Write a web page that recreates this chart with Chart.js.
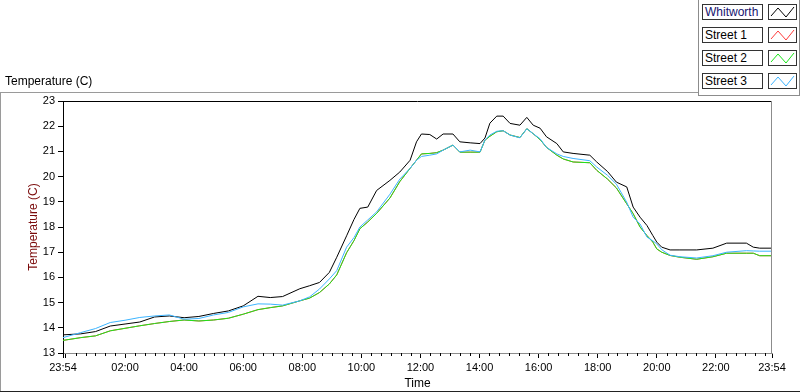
<!DOCTYPE html>
<html>
<head>
<meta charset="utf-8">
<script src="https://cdn.jsdelivr.net/npm/chart.js@4"></script>
<style>
    body { margin: 0; background: #fff; }
    #wrap { position: relative; width: 800px; height: 392px; overflow: hidden; font-family: 'Liberation Sans', Arial, sans-serif; }
    #chart { position: absolute; left: 0; top: 0; }
    .line { position: absolute; }
    #title { position: absolute; left: 5px; top: 74px; font-size: 12px; line-height: 15px; color: #000; }
    #legend { position: absolute; left: 698px; top: 0; width: 102px; height: 96px; box-sizing: border-box;
              border-left: 1px solid #8c8c8c; border-right: 1px solid #8c8c8c; border-bottom: 1px solid #8c8c8c; background: #fff; }
    .name { position: absolute; left: 3px; width: 61px; height: 16px; box-sizing: border-box; border: 1px solid #333;
            font-size: 12px; line-height: 14px; padding-left: 2px; color: #000; background: #fff; }
    .sample { position: absolute; left: 69px; width: 29px; height: 16px; box-sizing: border-box; border: 1px solid #333; background: #fff; }
    .sample svg { position: absolute; left: 0; top: 0; }
</style>
</head>
<body>
<div id="wrap">
    <canvas id="chart" width="800" height="392"></canvas>
    <div class="line" style="left:0;top:92px;width:698px;height:1px;background:#9a9a9a"></div>
    <div class="line" style="left:0;top:92px;width:1px;height:300px;background:#9a9a9a"></div>
    <div class="line" style="left:0;top:391px;width:800px;height:1px;background:#222"></div>
    <div id="title">Temperature (C)</div>
    <div id="legend"></div>
</div>
<script>
// readings, one per time stamp, from 23:54 the day before to 23:54
const times = ['23:54','00:30','01:00','01:30','02:00','02:30','03:00','03:30','04:00','04:30',
    '05:00','05:30','06:00','06:30','06:55','07:20','07:55','08:15','08:35','08:55',
    '09:10','09:30','09:45','09:57','10:13','10:31','10:58','11:18','11:39','11:52',
    '12:02','12:19','12:33','12:46','13:06','13:20','13:41','14:01','14:11','14:21',
    '14:35','14:48','15:02','15:22','15:36','15:49','16:03','16:16','16:37','16:50',
    '17:10','17:44','17:58','18:20','18:38','18:59','19:12','19:26','19:40','19:52',
    '20:00','20:10','20:27','20:47','21:21','21:54','22:22','23:02','23:16','23:29','23:54'];

const whitworth = [13.72,13.76,13.85,14.07,14.15,14.23,14.43,14.47,14.40,14.45,
    14.57,14.67,14.87,15.25,15.20,15.24,15.55,15.67,15.80,16.20,
    16.80,17.65,18.30,18.74,18.79,19.45,19.85,20.18,20.65,21.38,
    21.69,21.67,21.49,21.69,21.69,21.38,21.34,21.31,21.53,22.12,
    22.40,22.40,22.11,22.04,22.35,22.04,21.92,21.58,21.31,20.98,
    20.92,20.85,20.58,20.20,19.78,19.59,18.79,18.39,18.06,17.66,
    17.40,17.20,17.09,17.09,17.09,17.16,17.36,17.36,17.20,17.16,17.16];

const street1 = [13.50,13.61,13.68,13.88,13.98,14.08,14.17,14.25,14.31,14.27,
    14.31,14.38,14.54,14.72,14.80,14.87,15.07,15.18,15.40,15.74,
    16.10,16.98,17.46,17.93,18.20,18.54,19.15,19.80,20.33,20.65,
    20.90,20.92,20.95,21.05,21.25,20.97,20.97,20.97,21.45,21.60,
    21.78,21.82,21.65,21.55,21.90,21.70,21.47,21.16,20.85,20.70,
    20.58,20.55,20.25,19.90,19.55,18.92,18.53,18.00,17.66,17.40,
    17.13,17.00,16.87,16.80,16.72,16.82,16.96,16.96,16.96,16.86,16.86];

const street2 = [13.50,13.61,13.68,13.88,13.98,14.08,14.17,14.25,14.31,14.27,
    14.31,14.38,14.54,14.72,14.80,14.87,15.07,15.18,15.40,15.74,
    16.10,16.98,17.46,17.93,18.20,18.54,19.15,19.80,20.33,20.65,
    20.90,20.92,20.95,21.05,21.25,20.97,20.97,20.97,21.45,21.60,
    21.78,21.82,21.65,21.55,21.90,21.70,21.47,21.16,20.85,20.70,
    20.58,20.55,20.25,19.90,19.55,18.92,18.53,18.00,17.66,17.40,
    17.13,17.00,16.87,16.80,16.72,16.82,16.96,16.96,16.96,16.86,16.86];

const street3 = [13.61,13.81,13.97,14.21,14.30,14.41,14.47,14.51,14.34,14.37,
    14.51,14.61,14.83,14.95,14.94,14.90,15.07,15.23,15.54,15.94,
    16.27,17.20,17.58,18.00,18.28,18.60,19.30,19.90,20.33,20.65,
    20.80,20.85,20.90,21.05,21.25,20.98,21.05,20.98,21.45,21.65,
    21.80,21.82,21.65,21.54,21.90,21.70,21.50,21.16,20.90,20.80,
    20.72,20.63,20.38,20.05,19.70,18.98,18.39,18.12,17.60,17.45,
    17.33,17.10,16.88,16.82,16.77,16.86,17.00,17.06,17.05,17.04,17.04];

const seriesNames = ['Whitworth', 'Street 1', 'Street 2', 'Street 3'];
const seriesColors = ['#000000', '#ff3c3c', '#19e619', '#3cb4ff'];

const timeLabels = ['23:54','02:00','04:00','06:00','08:00','10:00','12:00','14:00','16:00','18:00','20:00','22:00','23:54'];
const tempTicks = [13, 14, 15, 16, 17, 18, 19, 20, 21, 22, 23];

// hours since midnight; a leading 23:xx belongs to the day before
function toHours(s, i) {
    const [h, m] = s.split(':').map(Number);
    let v = h + m / 60;
    if (i === 0 && v > 12) v -= 24;
    return v;
}

const xMin = toHours(timeLabels[0], 0);
const xMax = toHours(timeLabels[timeLabels.length - 1], 1);
const labelAt = new Map(timeLabels.map((s, i) => [toHours(s, i).toFixed(3), s]));

function points(values) {
    return values.map((v, i) => ({ x: toHours(times[i], i), y: v }));
}

const series = [whitworth, street1, street2, street3];
const drawOrder = [2, 3, 1, 0];

const datasets = series.map((values, i) => ({
    label: seriesNames[i],
    data: points(values),
    borderColor: seriesColors[i],
    borderWidth: 1,
    pointRadius: 0,
    tension: 0,
    order: drawOrder[i]
}));

// legend boxes top right
const legend = document.getElementById('legend');
seriesNames.forEach((name, i) => {
    const top = 4 + i * 23;
    const nameBox = document.createElement('div');
    nameBox.className = 'name';
    nameBox.style.top = top + 'px';
    nameBox.style.color = i === 0 ? '#14146e' : '#000';
    nameBox.textContent = name;
    legend.appendChild(nameBox);

    const sample = document.createElement('div');
    sample.className = 'sample';
    sample.style.top = top + 'px';
    sample.innerHTML = `<svg width="27" height="14"><polyline points="2,11 9,3 17,12 25,2"
        fill="none" stroke="${seriesColors[i]}" stroke-width="1"/></svg>`;
    legend.appendChild(sample);
});

// top/right edge of the plot and the short 20 minute ticks
const plotFrame = {
    id: 'plotFrame',
    afterDraw(chart) {
        const { ctx, chartArea: a, scales: { x } } = chart;
        ctx.save();
        ctx.lineWidth = 1;
        ctx.strokeStyle = '#000';
        ctx.beginPath();
        ctx.moveTo(a.left, Math.round(a.top) + 0.5);
        ctx.lineTo(a.right, Math.round(a.top) + 0.5);
        ctx.stroke();
        ctx.strokeStyle = '#8c8c8c';
        ctx.beginPath();
        ctx.moveTo(Math.round(a.right) - 0.5, a.top);
        ctx.lineTo(Math.round(a.right) - 0.5, a.bottom);
        ctx.stroke();
        ctx.strokeStyle = '#000';
        ctx.beginPath();
        x.ticks.forEach(t => {
            if (t.major) return;
            const px = Math.round(x.getPixelForValue(t.value)) + 0.5;
            ctx.moveTo(px, a.bottom);
            ctx.lineTo(px, a.bottom + 3);
        });
        ctx.stroke();
        ctx.restore();
    }
};

Chart.defaults.font.family = "'Liberation Sans', Arial, sans-serif";
Chart.defaults.font.size = 11;
Chart.defaults.color = '#000';

new Chart(document.getElementById('chart'), {
    type: 'line',
    data: { datasets: datasets },
    options: {
        responsive: false,
        animation: false,
        events: [],
        layout: { padding: { left: 0, top: 101, right: 28, bottom: 0 } },
        plugins: { legend: { display: false }, tooltip: { enabled: false } },
        scales: {
            x: {
                type: 'linear',
                min: xMin,
                max: xMax,
                afterBuildTicks: scale => {
                    const ticks = [{ value: xMin, major: true }];
                    for (let k = 0; k <= 71; k++) {
                        ticks.push({ value: k / 3, major: k % 6 === 0 });
                    }
                    ticks.push({ value: xMax, major: true });
                    scale.ticks = ticks;
                },
                afterFit: scale => { scale.height = 39; },
                ticks: {
                    autoSkip: false,
                    maxRotation: 0,
                    padding: 3,
                    color: '#000',
                    callback: v => labelAt.get(Number(v).toFixed(3)) || ''
                },
                grid: {
                    drawOnChartArea: false,
                    tickLength: 5,
                    tickColor: c => (c.tick && c.tick.major) ? '#000' : 'rgba(0,0,0,0)'
                },
                border: { color: '#8c8c8c' },
                title: {
                    display: true,
                    text: 'Time',
                    color: '#000',
                    font: { size: 12 },
                    padding: { top: 0, bottom: 1 }
                }
            },
            y: {
                min: tempTicks[0],
                max: tempTicks[tempTicks.length - 1],
                afterBuildTicks: scale => { scale.ticks = tempTicks.map(v => ({ value: v })); },
                afterFit: scale => { scale.width = 63; },
                ticks: { padding: 3, color: '#000' },
                grid: { drawOnChartArea: false, tickLength: 5, tickColor: '#000' },
                border: { color: '#000' },
                title: {
                    display: true,
                    text: 'Temperature (C)',
                    color: '#7a0a0a',
                    font: { size: 12 },
                    padding: { top: 26, bottom: 0 }
                }
            }
        }
    },
    plugins: [plotFrame]
});
</script>
</body>
</html>
